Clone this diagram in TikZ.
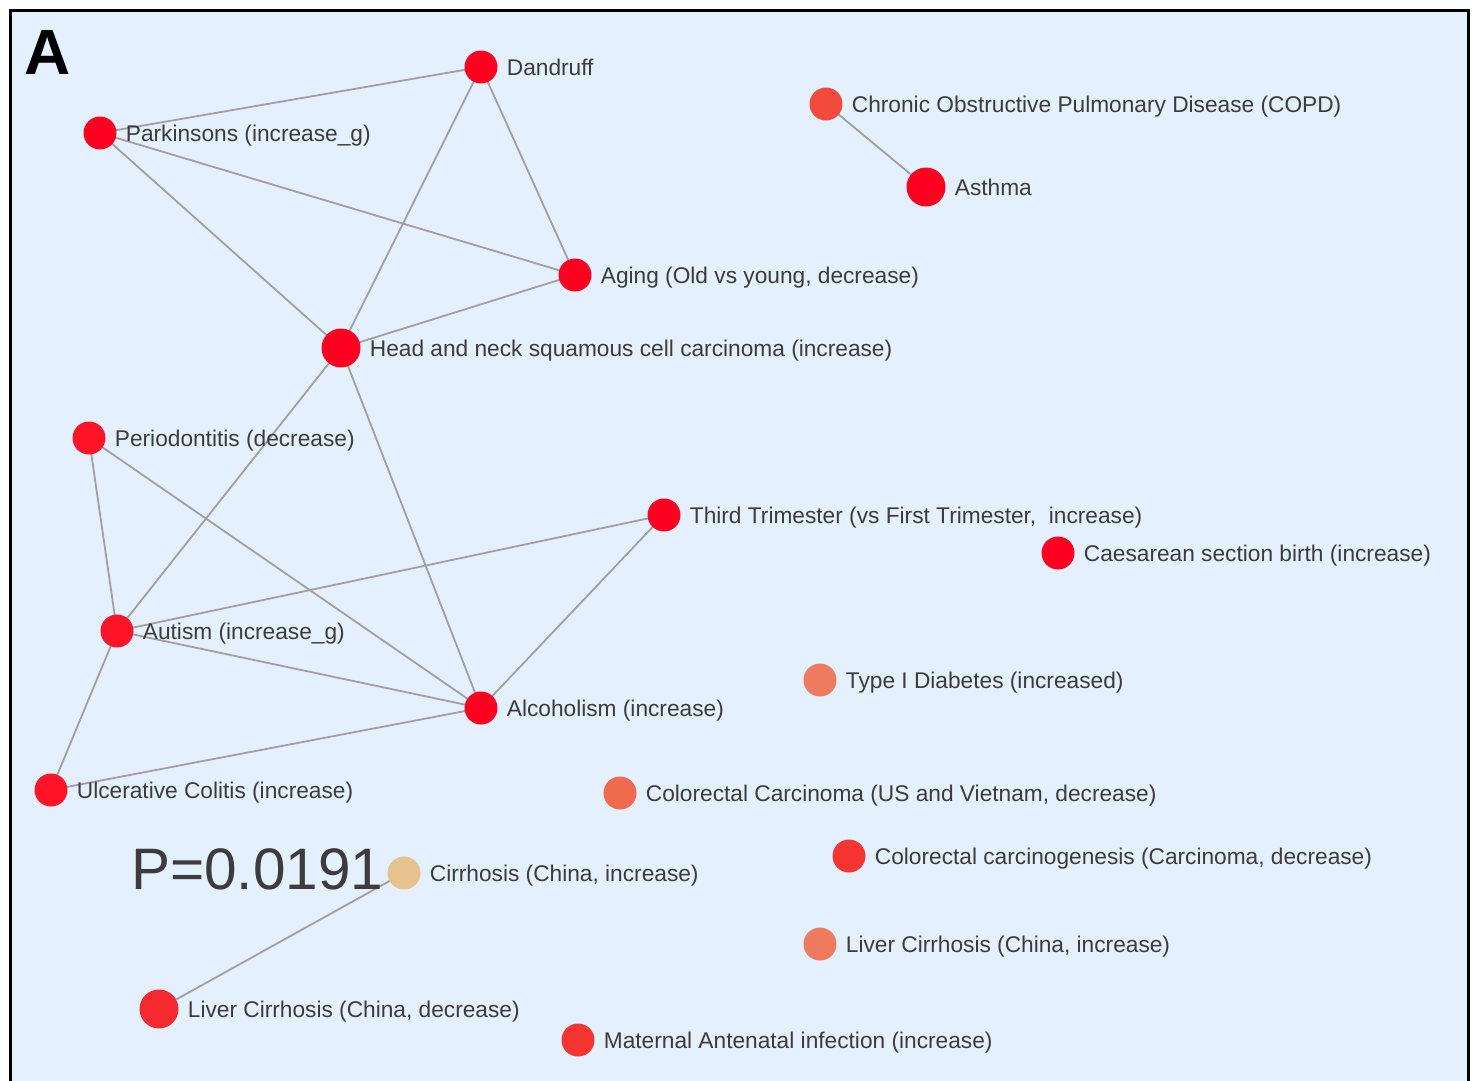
\documentclass[tikz,border=0pt]{standalone}
\usepackage{fontspec}
\setmainfont{Liberation Sans}
\usetikzlibrary{backgrounds}
\pgfdeclarelayer{bglayer}
\pgfdeclarelayer{edgelayer}
\pgfsetlayers{bglayer,edgelayer,main}
\definecolor{bgblue}{HTML}{E4F0FE}
\definecolor{cred}{HTML}{FF0020}
\definecolor{cred2}{HTML}{FF1428}
\definecolor{ccopd}{HTML}{F24B3E}
\definecolor{csalmon}{HTML}{EE7B5E}
\definecolor{csalmon2}{HTML}{F06A50}
\definecolor{cred3}{HTML}{F63532}
\definecolor{cred4}{HTML}{F52A2E}
\definecolor{ctan}{HTML}{E6C38E}
\definecolor{cedge}{HTML}{A0A0A0}
\definecolor{ctext}{HTML}{3C3C3C}
\tikzset{
  dot/.style={circle, draw=none, inner sep=0pt},
  lab/.style={anchor=base west, inner sep=0pt, text=ctext, font=\fontsize{22.7}{26}\selectfont},
  edge/.style={draw=cedge, line width=1.8pt},
}
% name, x, y, diameter, colour, text
\newcommand\dnode[6]{%
  \node[dot, fill=#5, minimum size=#4pt] (#1) at (#2,#3) {};
  \node[lab] (#1l) at ([xshift=9pt,yshift=-8pt]#1.east) {#6};}
\begin{document}
\begin{tikzpicture}[x=1pt,y=-1pt]
\useasboundingbox (0,0) rectangle (1475,1080);
\begin{pgfonlayer}{bglayer}
  \fill[white] (0,0) rectangle (1475,1080);
  \node[draw=black, line width=3pt, fill=bgblue, minimum width=1458pt, minimum height=1090pt, anchor=north west, inner sep=0pt] (frame) at (9,9) {};
\end{pgfonlayer}

\node[anchor=base west, inner sep=0pt, font=\fontsize{64}{66}\selectfont\bfseries] (A) at (24,74) {A};
\node[anchor=base west, inner sep=0pt, text=ctext, font=\fontsize{58.5}{60}\selectfont] (P) at (131,889) {P=0.0191};

\dnode{dand}{481}{67}{33}{cred}{Dandruff}
\dnode{park}{100}{133}{33}{cred}{Parkinsons (increase\_g)}
\dnode{copd}{826}{104}{33}{ccopd}{Chronic Obstructive Pulmonary Disease (COPD)}
\dnode{asth}{926}{187}{39}{cred}{Asthma}
\dnode{aging}{575}{275}{33}{cred}{Aging (Old vs young, decrease)}
\dnode{head}{341}{348}{39}{cred}{Head and neck squamous cell carcinoma (increase)}
\dnode{perio}{89}{438}{33}{cred2}{Periodontitis (decrease)}
\dnode{third}{664}{515}{33}{cred}{Third Trimester (vs First Trimester,\ \ increase)}
\dnode{caes}{1058}{553}{33}{cred}{Caesarean section birth (increase)}
\dnode{aut}{117}{631}{33}{cred2}{Autism (increase\_g)}
\dnode{t1d}{820}{680}{33}{csalmon}{Type I Diabetes (increased)}
\dnode{alc}{481}{708}{33}{cred}{Alcoholism (increase)}
\dnode{uc}{51}{790}{33}{cred2}{Ulcerative Colitis (increase)}
\dnode{crc}{620}{793}{33}{csalmon2}{Colorectal Carcinoma (US and Vietnam, decrease)}
\dnode{crcg}{849}{856}{33}{cred3}{Colorectal carcinogenesis (Carcinoma, decrease)}
\dnode{cirr}{404}{873}{33}{ctan}{Cirrhosis (China, increase)}
\dnode{lci}{820}{944}{33}{csalmon}{Liver Cirrhosis (China, increase)}
\dnode{lcd}{159}{1009}{39}{cred4}{Liver Cirrhosis (China, decrease)}
\dnode{mat}{578}{1040}{33}{cred3}{Maternal Antenatal infection (increase)}

\begin{pgfonlayer}{edgelayer}
  \draw[edge] (park.center) -- (dand.center);
  \draw[edge] (park.center) -- (aging.center);
  \draw[edge] (park.center) -- (head.center);
  \draw[edge] (dand.center) -- (aging.center);
  \draw[edge] (dand.center) -- (head.center);
  \draw[edge] (aging.center) -- (head.center);
  \draw[edge] (head.center) -- (aut.center);
  \draw[edge] (head.center) -- (alc.center);
  \draw[edge] (perio.center) -- (aut.center);
  \draw[edge] (perio.center) -- (alc.center);
  \draw[edge] (third.center) -- (aut.center);
  \draw[edge] (third.center) -- (alc.center);
  \draw[edge] (aut.center) -- (alc.center);
  \draw[edge] (aut.center) -- (uc.center);
  \draw[edge] (uc.center) -- (alc.center);
  \draw[edge] (copd.center) -- (asth.center);
  \draw[edge] (cirr.center) -- (lcd.center);
\end{pgfonlayer}
\end{tikzpicture}
\end{document}
